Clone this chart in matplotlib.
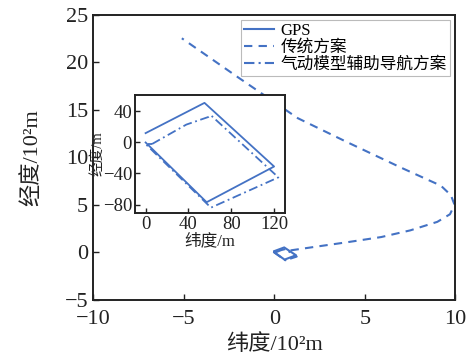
import numpy as np
import matplotlib
matplotlib.use("Agg")
import matplotlib.pyplot as plt

plt.rcParams['font.family'] = ['Liberation Serif', 'Noto Sans CJK SC']
plt.rcParams['axes.unicode_minus'] = True

BLUE = '#4472C4'

# GPS track (m)
gps_x = [0, 55, 120, 57, 0]
gps_y = [12, 51, -31, -77, 0]

# aero-model aided navigation (m)
aero_x = [6, 38, 59, 61, 124, 61, 0, 6]
aero_y = [-2, 23, 33, 35, -45, -84, -2, -2]

# traditional scheme (10^2 m)
trad_x = [0.9, 2.2, 4.0, 5.9, 7.5, 9.0, 9.7, 9.95, 9.75, 9.2, 7.0, 4.0, 1.3, -2.0, -5.1]
trad_y = [0.2, 0.56, 1.05, 1.6, 2.3, 3.2, 4.0, 5.0, 6.0, 7.0, 8.9, 11.6, 14.1, 18.4, 22.5]

fig = plt.figure(figsize=(4.7, 3.63), dpi=100)
ax = fig.add_axes([0.198, 0.174, 0.771, 0.786])

ax.plot(np.array(gps_x) / 100, np.array(gps_y) / 100, color=BLUE, lw=1.5, label='GPS')
ax.plot(trad_x, trad_y, color=BLUE, lw=1.5, ls=(0, (4, 3)), label='传统方案')
ax.plot(np.array(aero_x) / 100, np.array(aero_y) / 100, color=BLUE, lw=1.5,
        ls=(0, (5, 2, 1, 2)), label='气动模型辅助导航方案')

ax.set_xlim(-10, 10)
ax.set_ylim(-5, 25)
ax.set_xticks([-10, -5, 0, 5, 10])
ax.set_yticks([-5, 0, 5, 10, 15, 20, 25])
ax.tick_params(direction='in', length=4, width=1, labelsize=16, colors='#222222')
ax.tick_params(axis='x', pad=7)
for s in ax.spines.values():
    s.set_linewidth(1.4)
    s.set_color('#222222')
ax.set_xlabel('纬度/10²m', fontsize=16, color='#222222', labelpad=4)
ax.set_ylabel('经度/10²m', fontsize=16, color='#222222', labelpad=16)

leg = ax.legend(loc='upper right', fontsize=12, frameon=True, fancybox=False,
                edgecolor='#aaaaaa', borderpad=0.2, labelspacing=0.05,
                handlelength=1.8, handletextpad=0.4, borderaxespad=0.3)
leg.get_frame().set_linewidth(0.8)

ins = fig.add_axes([0.287, 0.413, 0.319, 0.325])
ins.plot(gps_x, gps_y, color=BLUE, lw=1.3)
ins.plot(aero_x, aero_y, color=BLUE, lw=1.3, ls=(0, (5, 2, 1, 2)))
ins.set_xlim(-10, 130)
ins.set_ylim(-91, 61)
ins.set_xticks([0, 40, 80, 120])
ins.set_yticks([-80, -40, 0, 40])
ins.tick_params(direction='in', length=3.5, width=1, labelsize=13.5, colors='#222222', pad=2)
for s in ins.spines.values():
    s.set_linewidth(1.4)
    s.set_color('#222222')
ins.set_xlabel('纬度/m', fontsize=12, color='#222222', labelpad=0)
ins.set_ylabel('经度/m', fontsize=10.5, color='#222222')
ins.yaxis.set_label_coords(-0.205, 0.5)

fig.savefig('out.png', dpi=100)
